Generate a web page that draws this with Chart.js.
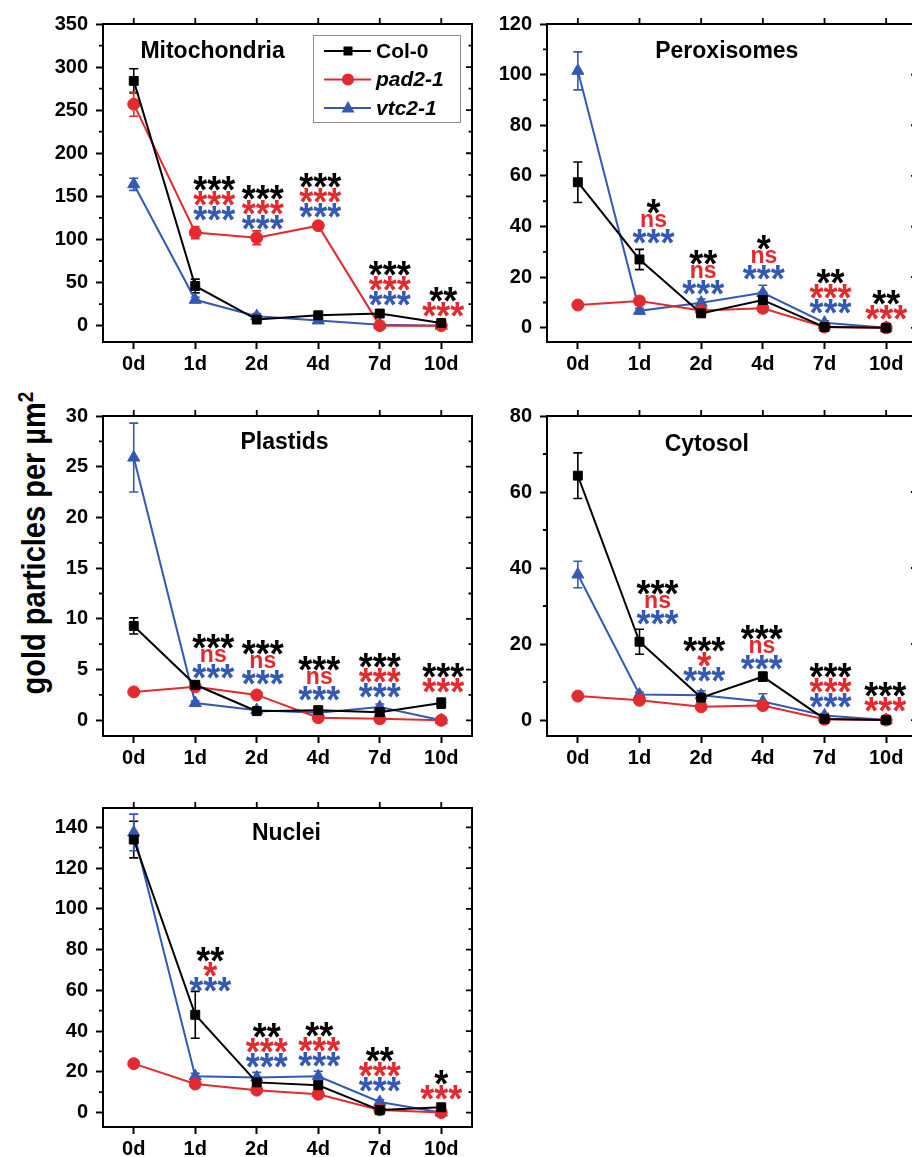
<!doctype html>
<html lang="en">
<head>
  <meta charset="utf-8" />
  <title>Gold particles per compartment</title>
  <script src="https://cdn.jsdelivr.net/npm/chart.js"></script>
  <style>
    body { margin: 0; background: #fff; width: 912px; height: 1157px; overflow: hidden; position: relative; }
    canvas { position: absolute; }
    #ytitle {
      position: absolute; left: 33px; top: 543px; white-space: nowrap;
      font: bold 29px "Liberation Sans", Arial, sans-serif; color: #000;
      transform: translate(-50%, -50%) rotate(-90deg) scaleY(1.15);
    }
    #ytitle sup { font-size: 19px; }
  </style>
</head>
<body>
  <div id="ytitle">gold particles per µm<sup>2</sup></div>
  <canvas id="c1" width="480" height="400" style="left:0;top:0"></canvas>
  <canvas id="c2" width="480" height="400" style="left:450px;top:0"></canvas>
  <canvas id="c3" width="480" height="410" style="left:0;top:380px"></canvas>
  <canvas id="c4" width="480" height="410" style="left:450px;top:380px"></canvas>
  <canvas id="c5" width="480" height="377" style="left:0;top:780px"></canvas>

  <script>
    const FONT = '"Liberation Sans", Arial, sans-serif';

    const days = ['0d', '1d', '2d', '4d', '7d', '10d'];
    const seriesNames = ['Col-0', 'pad2-1', 'vtc2-1'];
    const seriesColors = ['#000000', '#e32a2e', '#3459b4'];
    const seriesPoints = ['rect', 'circle', 'triangle'];
    const seriesItalic = [false, true, true];

    // Mitochondria
    const mitoCol0 = [284, 46, 7, 12, 14, 3];
    const mitoPad2 = [257, 108, 102, 116, 0, 0];
    const mitoVtc2 = [164, 30, 11, 6, 1, 0];
    const mitoCol0Err = [14, 8, 2, 3, 2, 3];
    const mitoPad2Err = [14, 7, 8, 4, 0.5, 0.5];
    const mitoVtc2Err = [7, 3, 3, 2, 1, 0];
    // [day index, value at first line, x shift, lines (Col-0 / pad2-1 / vtc2-1 colours)]
    const mitoMarks = [
      [1, 165.6, 19, ['***', '***', '***']],
      [2, 155.8, 6, ['***', '***', '***']],
      [3, 169.4, 2, ['***', '***', '***']],
      [4, 67, 10, ['***', '***', '***']],
      [5, 37.7, 2, ['**', '***']]
    ];

    // Peroxisomes
    const peroCol0 = [57.5, 27, 5.7, 11, 0.3, 0];
    const peroPad2 = [9, 10.6, 6.8, 7.7, 0.3, 0];
    const peroVtc2 = [101.5, 6.7, 9.9, 13.8, 2, 0];
    const peroCol0Err = [8, 4, 1, 3, 0.5, 0];
    const peroPad2Err = [1, 1.5, 1, 1.5, 0.3, 0];
    const peroVtc2Err = [7.5, 1, 1.5, 3, 0.8, 0];
    const peroMarks = [
      [1, 48.5, 14, ['*', 'ns', '***']],
      [2, 28.1, 2, ['**', 'ns', '***']],
      [3, 34, 1, ['*', 'ns', '***']],
      [4, 20.8, 6, ['**', '***', '***']],
      [5, 12.5, 0, ['**', '***']]
    ];

    // Plastids
    const plasCol0 = [9.3, 3.5, 0.9, 1.0, 0.8, 1.7];
    const plasPad2 = [2.8, 3.3, 2.5, 0.25, 0.15, 0];
    const plasVtc2 = [25.9, 1.7, 1.0, 0.75, 1.3, 0];
    const plasCol0Err = [0.8, 0.3, 0.2, 0.2, 0.3, 0.5];
    const plasPad2Err = [0.2, 0.3, 0.2, 0.2, 0.4, 0];
    const plasVtc2Err = [3.4, 0.2, 0.2, 0.1, 0.3, 0];
    const plasMarks = [
      [1, 7.9, 18, ['***', 'ns', '***']],
      [2, 7.3, 6, ['***', 'ns', '***']],
      [3, 5.7, 1, ['***', 'ns', '***']],
      [4, 6.0, 0, ['***', '***', '***']],
      [5, 5.0, 2, ['***', '***']]
    ];

    // Cytosol
    const cytoCol0 = [64.3, 20.6, 5.9, 11.4, 0.3, 0];
    const cytoPad2 = [6.3, 5.2, 3.5, 3.8, 0.2, 0];
    const cytoVtc2 = [38.3, 6.7, 6.5, 4.9, 1.2, 0];
    const cytoCol0Err = [6, 3.3, 0.8, 1.2, 0.2, 0];
    const cytoPad2Err = [0.6, 0.5, 0.5, 0.6, 0.2, 0];
    const cytoVtc2Err = [3.5, 0.6, 1.2, 2, 0.5, 0];
    const cytoMarks = [
      [1, 35.1, 18, ['***', 'ns', '***']],
      [2, 20.2, 3, ['***', '*', '***']],
      [3, 23.2, -1, ['***', 'ns', '***']],
      [4, 13.2, 6, ['***', '***', '***']],
      [5, 8.3, -1, ['***', '***']]
    ];

    // Nuclei
    const nucCol0 = [134, 48, 14.8, 13.4, 1.2, 2.6];
    const nucPad2 = [24, 14, 11, 9, 1.3, 0];
    const nucVtc2 = [137.5, 17.8, 17.2, 17.8, 5.2, 0];
    const nucCol0Err = [9, 11.5, 1.5, 2, 0.5, 0.5];
    const nucPad2Err = [1.5, 1, 1, 1.5, 0.5, 0.3];
    const nucVtc2Err = [9, 1.5, 2.5, 2.5, 1, 0];
    const nucMarks = [
      [1, 78.2, 15, ['**', '*', '***']],
      [2, 40.8, 10, ['**', '***', '***']],
      [3, 41.3, 1, ['**', '***', '***']],
      [4, 29, 0, ['**', '***', '***']],
      [5, 17.5, 0, ['*', '***']]
    ];

    const panels = [
      { id: 'c1', title: 'Mitochondria', vals: [mitoCol0, mitoPad2, mitoVtc2], errs: [mitoCol0Err, mitoPad2Err, mitoVtc2Err],
        marks: mitoMarks, min: -19, max: 350, step: 50, yW: 103, padTop: 24, padRight: 6, xH: 58, titleX: 0.297, titleDy: 28, legend: true },
      { id: 'c2', title: 'Peroxisomes', vals: [peroCol0, peroPad2, peroVtc2], errs: [peroCol0Err, peroPad2Err, peroVtc2Err],
        marks: peroMarks, min: -5.6, max: 120, step: 20, yW: 97, padTop: 24, padRight: 13, xH: 58, titleX: 0.486, titleDy: 28 },
      { id: 'c3', title: 'Plastids', vals: [plasCol0, plasPad2, plasVtc2], errs: [plasCol0Err, plasPad2Err, plasVtc2Err],
        marks: plasMarks, min: -1.55, max: 30, step: 5, yW: 103, padTop: 36, padRight: 6, xH: 54, titleX: 0.492, titleDy: 27 },
      { id: 'c4', title: 'Cytosol', vals: [cytoCol0, cytoPad2, cytoVtc2], errs: [cytoCol0Err, cytoPad2Err, cytoVtc2Err],
        marks: cytoMarks, min: -4.2, max: 80, step: 20, yW: 97, padTop: 36, padRight: 13, xH: 54, titleX: 0.432, titleDy: 29 },
      { id: 'c5', title: 'Nuclei', vals: [nucCol0, nucPad2, nucVtc2], errs: [nucCol0Err, nucPad2Err, nucVtc2Err],
        marks: nucMarks, min: -7.1, max: 149.5, step: 20, yW: 103, padTop: 28, padRight: 6, xH: 30, titleX: 0.497, titleDy: 26 }
    ];

    function drawMarker(ctx, style, x, y, color) {
      ctx.fillStyle = color;
      ctx.beginPath();
      if (style === 'rect') {
        ctx.rect(x - 4.5, y - 4.5, 9, 9);
      } else if (style === 'circle') {
        ctx.arc(x, y, 6, 0, Math.PI * 2);
      } else {
        ctx.moveTo(x, y - 7);
        ctx.lineTo(x + 6.5, y + 4.5);
        ctx.lineTo(x - 6.5, y + 4.5);
        ctx.closePath();
      }
      ctx.fill();
    }

    // error bars, frame, extra ticks, titles, significance marks, legend
    const decor = {
      id: 'decor',
      beforeDatasetsDraw(chart, args, opts) {
        const ctx = chart.ctx, ys = chart.scales.y;
        ctx.save();
        ctx.lineWidth = 1.6;
        chart.data.datasets.forEach((ds, i) => {
          const meta = chart.getDatasetMeta(i);
          ctx.strokeStyle = seriesColors[i];
          meta.data.forEach((pt, j) => {
            const e = opts.errs[i][j];
            if (!e) return;
            const yt = ys.getPixelForValue(ds.data[j] + e);
            const yb = ys.getPixelForValue(ds.data[j] - e);
            ctx.beginPath();
            ctx.moveTo(pt.x, yt); ctx.lineTo(pt.x, yb);
            ctx.moveTo(pt.x - 4.5, yt); ctx.lineTo(pt.x + 4.5, yt);
            ctx.moveTo(pt.x - 4.5, yb); ctx.lineTo(pt.x + 4.5, yb);
            ctx.stroke();
          });
        });
        ctx.restore();
      },
      afterDraw(chart, args, opts) {
        const ctx = chart.ctx, a = chart.chartArea;
        const xs = chart.scales.x, ys = chart.scales.y;
        ctx.save();
        ctx.strokeStyle = '#000';
        ctx.lineWidth = 2;
        ctx.beginPath();
        ctx.moveTo(a.left - 1, a.top); ctx.lineTo(a.right, a.top); ctx.lineTo(a.right, a.bottom + 1);
        ctx.stroke();

        // top ticks (outward)
        ctx.beginPath();
        days.forEach((d, j) => {
          const x = xs.getPixelForValue(j);
          ctx.moveTo(x, a.top); ctx.lineTo(x, a.top - 6);
        });
        // right ticks (inward) + left minor ticks
        const half = opts.step / 2;
        for (let v = 0; v <= opts.max + 1e-9; v += half) {
          const y = ys.getPixelForValue(v);
          const major = Math.abs(v / opts.step - Math.round(v / opts.step)) < 1e-6;
          ctx.moveTo(a.right, y); ctx.lineTo(a.right - (major ? 6 : 3.5), y);
          if (!major) { ctx.moveTo(a.left, y); ctx.lineTo(a.left - 4, y); }
        }
        ctx.lineWidth = 1.8;
        ctx.stroke();

        // title
        ctx.fillStyle = '#000';
        ctx.font = 'bold 23px ' + FONT;
        ctx.textAlign = 'center';
        ctx.textBaseline = 'middle';
        ctx.fillText(opts.title, a.left + opts.titleX * (a.right - a.left), a.top + opts.titleDy);

        // significance marks
        ctx.textBaseline = 'alphabetic';
        opts.marks.forEach(([j, v, dx, lines]) => {
          const x = xs.getPixelForValue(j) + dx;
          const y0 = ys.getPixelForValue(v);
          lines.forEach((t, k) => {
            const ns = t === 'ns';
            ctx.font = (ns ? 'bold 23px ' : 'bold 36px ') + FONT;
            ctx.fillStyle = seriesColors[k];
            const m = ctx.measureText(t);
            ctx.save();
            ctx.translate(x, y0 + k * 15);
            if (!ns) ctx.scale(1, 1.08);
            ctx.fillText(t, 0, (m.actualBoundingBoxAscent - m.actualBoundingBoxDescent) / 2);
            ctx.restore();
          });
        });

        // legend box
        if (opts.legend) {
          const bx = a.right - 159, by = a.top + 11;
          ctx.strokeStyle = '#8c8c8c';
          ctx.lineWidth = 1;
          ctx.strokeRect(bx + 0.5, by + 0.5, 147, 87);
          seriesNames.forEach((name, i) => {
            const y = by + 16 + i * 28.5;
            ctx.strokeStyle = seriesColors[i];
            ctx.lineWidth = 2;
            ctx.beginPath();
            ctx.moveTo(bx + 11, y); ctx.lineTo(bx + 58, y);
            ctx.stroke();
            drawMarker(ctx, seriesPoints[i], bx + 35, y, seriesColors[i]);
            ctx.fillStyle = '#000';
            ctx.font = (seriesItalic[i] ? 'italic bold 21px ' : 'bold 21px ') + FONT;
            ctx.textAlign = 'left';
            ctx.textBaseline = 'middle';
            ctx.fillText(name, bx + 63, y + 1);
          });
        }
        ctx.restore();
      }
    };

    const tickFont = { family: FONT, size: 20, weight: 'bold' };

    panels.forEach(p => {
      const ctx = document.getElementById(p.id).getContext('2d');
      new Chart(ctx, {
        type: 'line',
        data: {
          labels: days,
          datasets: p.vals.map((vals, i) => ({
            label: seriesNames[i],
            data: vals,
            borderColor: seriesColors[i],
            backgroundColor: seriesColors[i],
            pointBackgroundColor: seriesColors[i],
            pointBorderColor: seriesColors[i],
            pointBorderWidth: 1,
            pointStyle: seriesPoints[i],
            pointRadius: seriesPoints[i] === 'rect' ? 6.3 : (seriesPoints[i] === 'triangle' ? 7 : 6),
            borderWidth: 2,
            tension: 0,
            fill: false
          }))
        },
        options: {
          responsive: false,
          animation: false,
          devicePixelRatio: 1,
          layout: { padding: { top: p.padTop, right: p.padRight, left: 0, bottom: 0 } },
          plugins: {
            legend: { display: false },
            tooltip: { enabled: false },
            decor: p
          },
          scales: {
            x: {
              offset: true,
              grid: { drawOnChartArea: false, drawTicks: true, tickLength: 7, tickWidth: 2, color: '#000' },
              border: { display: true, width: 2, color: '#000' },
              ticks: { color: '#000', font: tickFont, padding: 3, maxRotation: 0, autoSkip: false },
              afterFit: s => { s.height = p.xH; }
            },
            y: {
              min: p.min,
              max: p.max,
              grid: { drawOnChartArea: false, drawTicks: true, tickLength: 7, tickWidth: 2, color: '#000' },
              border: { display: true, width: 2, color: '#000' },
              ticks: { color: '#000', font: tickFont, stepSize: p.step, padding: 8 },
              afterBuildTicks: s => {
                const t = [];
                for (let v = 0; v <= p.max + 1e-9; v += p.step) t.push({ value: v });
                s.ticks = t;
              },
              afterFit: s => { s.width = p.yW; }
            }
          }
        },
        plugins: [decor]
      });
    });
  </script>
</body>
</html>
